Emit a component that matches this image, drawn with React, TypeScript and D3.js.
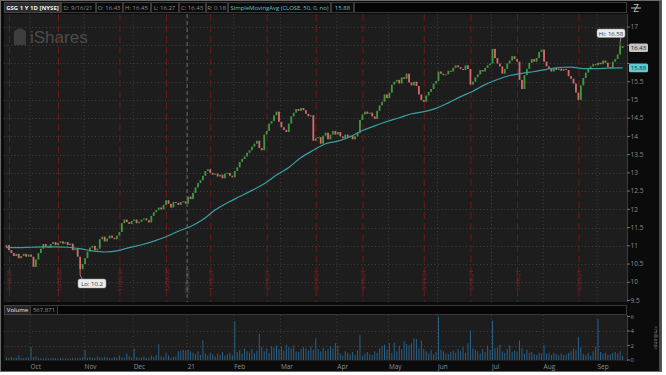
import React from "react";
import * as d3 from "d3";

// daily closes, 9/17/20 .. 9/16/21 (252 sessions)
const closes: number[] = [
  // Sep 20
  11.02, 10.88, 10.8, 10.72, 10.78, 10.66, 10.72, 10.78, 10.7, 10.76,
  // Oct
  10.7, 10.42, 10.62, 10.8, 10.92, 11.05, 10.98, 10.95, 11.05, 11.1, 11.02,
  11.08, 11.12, 11.06, 11.1, 11.02, 11.06, 10.88, 10.92, 10.7, 10.36, 10.5,
  // Nov
  10.66, 10.84, 10.95, 11.0, 10.88, 10.92, 11.18, 11.25, 11.12, 11.2, 11.28,
  11.22, 11.18, 11.28, 11.38, 11.62, 11.72, 11.65, 11.6, 11.68,
  // Dec
  11.72, 11.62, 11.66, 11.72, 11.75, 11.7, 11.64, 11.82, 11.92, 11.98, 12.05,
  12.0, 12.12, 12.25, 12.15, 12.05, 12.2, 12.18, 12.12, 12.2, 12.22, 12.16,
  // Jan 21
  12.35, 12.28, 12.45, 12.6, 12.72, 12.8, 12.92, 13.05, 13.1, 13.0, 12.95,
  12.98, 12.9, 12.95, 12.85, 12.98, 13.0, 12.92, 12.88,
  // Feb
  13.05, 13.15, 13.3, 13.38, 13.45, 13.55, 13.62, 13.72, 13.8, 13.88, 13.68,
  13.62, 14.05, 14.15, 14.35, 14.42, 14.58, 14.68, 14.4,
  // Mar
  14.25, 14.18, 14.12, 14.35, 14.55, 14.65, 14.75, 14.7, 14.78, 14.72, 14.62,
  14.55, 14.58, 13.88, 13.95, 13.98, 13.8, 14.02, 14.1, 13.92, 14.05, 14.15, 14.05,
  // Apr
  14.12, 14.0, 13.95, 14.05, 13.98, 14.02, 13.92, 14.0, 14.1, 14.45, 14.6,
  14.68, 14.62, 14.65, 14.55, 14.48, 14.7, 14.85, 14.95, 15.15, 15.05,
  // May
  15.2, 15.42, 15.5, 15.55, 15.45, 15.62, 15.58, 15.72, 15.48, 15.4, 15.5,
  15.38, 15.15, 15.0, 14.95, 15.12, 15.22, 15.3, 15.45, 15.52,
  // Jun
  15.78, 15.72, 15.68, 15.7, 15.8, 15.78, 15.88, 15.95, 15.9, 15.85, 15.82,
  15.95, 15.85, 15.42, 15.5, 15.62, 15.7, 15.82, 15.78, 15.88, 15.95, 16.0,
  // Jul
  16.4, 16.15, 16.0, 15.92, 15.72, 15.85, 16.0, 16.08, 16.2, 16.12, 16.05,
  15.55, 15.3, 15.68, 15.85, 16.02, 16.12, 16.05, 16.15, 16.32, 16.38,
  // Aug
  16.05, 15.92, 15.85, 15.78, 15.88, 15.82, 15.86, 15.8, 15.85, 15.82, 15.65,
  15.58, 15.45, 15.2, 15.0, 15.4, 15.6, 15.75, 15.85, 15.92, 15.98, 15.95,
  // Sep
  16.02, 15.98, 16.08, 16.02, 15.9, 15.88, 16.05, 16.12, 16.25, 16.47, 16.43,
];
const firstOpen = 10.95;

// volume in millions
const volumes: number[] = [
  0.35, 0.3, 0.4, 0.25, 0.3, 0.7, 0.3, 0.25, 0.35, 0.3,
  1.8, 0.4, 0.5, 0.3, 0.25, 0.2, 0.3, 0.25, 0.2, 0.3, 0.25, 0.2, 0.25, 0.3, 0.2, 0.25, 0.2, 0.3, 0.25, 0.2, 0.3, 0.35,
  1.4, 0.3, 0.4, 0.25, 0.3, 0.5, 0.35, 0.3, 0.45, 0.35, 0.3, 0.25, 0.4, 0.3, 0.6, 0.35, 0.3, 0.9, 0.5, 0.3,
  1.6, 0.4, 0.3, 0.35, 0.5, 0.3, 0.3, 0.6, 0.4, 0.7, 2.2, 0.5, 0.4, 1.0, 0.6, 0.3, 0.4, 0.5, 1.2, 1.3, 1.4, 1.3,
  1.4, 1.2, 1.0, 0.8, 1.2, 0.7, 2.7, 0.9, 0.6, 1.0, 0.8, 0.5, 0.9, 0.7, 1.1, 0.6, 0.8, 1.0, 0.7,
  5.3, 1.1, 1.4, 0.9, 1.6, 1.2, 1.0, 1.5, 0.9, 1.3, 3.6, 1.8, 1.2, 1.6, 1.0, 1.9, 1.7, 2.0, 1.5,
  1.9, 1.3, 2.1, 1.8, 1.6, 2.0, 1.2, 1.1, 1.5, 1.8, 1.6, 1.3, 1.9, 1.4, 3.0, 1.5, 1.2, 1.7, 1.3, 1.5, 1.9, 1.6, 2.3,
  2.0, 0.9, 0.6, 1.2, 1.0, 0.8, 1.1, 0.7, 1.3, 3.4, 0.6, 0.9, 1.1, 0.8, 0.7, 1.2, 1.0, 1.6, 1.9, 2.1, 1.4,
  2.3, 1.0, 2.4, 1.2, 2.0, 1.5, 2.6, 2.2, 2.0, 2.3, 3.0, 2.9, 1.6, 2.7, 1.5, 1.2, 0.9, 1.4, 0.8, 1.1,
  6.0, 1.4, 1.2, 0.9, 0.8, 1.1, 1.3, 1.0, 1.5, 1.2, 1.8, 1.0, 2.3, 4.1, 1.6, 1.4, 1.2, 0.9, 1.5, 1.1, 2.0, 1.4,
  5.4, 1.6, 1.7, 2.1, 1.2, 1.0, 1.5, 2.0, 1.1, 1.3, 1.2, 2.7, 1.6, 0.9, 1.4, 1.0, 1.1, 0.8, 0.7, 1.0, 0.9,
  2.1, 0.9, 1.0, 0.7, 1.0, 0.8, 0.6, 0.9, 0.7, 0.8, 1.0, 1.2, 1.6, 1.4, 3.2, 1.8, 0.8, 0.7, 1.0, 0.6, 1.2, 1.8,
  5.6, 1.1, 0.9, 1.0, 0.7, 0.8, 1.0, 1.1, 0.9, 1.2, 0.57,
];

// 50-day SMA, [session index, value]
const smaPoints: [number, number][] = [
  [0, 10.95], [5, 10.95], [10, 10.96], [15, 10.97], [20, 10.97], [25, 10.96],
  [30, 10.92], [35, 10.86], [40, 10.83], [45, 10.86], [50, 10.95], [55, 11.03],
  [60, 11.13], [65, 11.25], [70, 11.4], [75, 11.53], [80, 11.72], [85, 11.98],
  [90, 12.18], [95, 12.35], [100, 12.52], [105, 12.7], [110, 12.94], [115, 13.15],
  [120, 13.42], [125, 13.62], [130, 13.8], [135, 13.87], [140, 13.99], [145, 14.16],
  [150, 14.29], [155, 14.41], [160, 14.51], [165, 14.62], [170, 14.68], [175, 14.77],
  [180, 14.92], [185, 15.09], [190, 15.24], [195, 15.42], [200, 15.56], [205, 15.67],
  [210, 15.73], [215, 15.78], [220, 15.84], [225, 15.89], [230, 15.9], [235, 15.86],
  [240, 15.86], [245, 15.87], [251, 15.88],
];

const monthStarts = [10, 32, 52, 74, 93, 112, 135, 156, 176, 198, 219, 241];
const monthLabels = ["Oct", "Nov", "Dec", "21", "Feb", "Mar", "Apr", "May", "Jun", "Jul", "Aug", "Sep"];
const yearBreak = 74;

const expiryIdx = [1, 21, 46, 65, 83, 106, 126, 145, 170, 189, 208, 233];
const expiryLabels = ["9/18/20", "10/16/20", "11/20/20", "12/18/20", "1/15/21", "2/19/21",
  "3/19/21", "4/16/21", "5/21/21", "6/18/21", "7/16/21", "8/20/21"];

const priceTicks = [9.5, 10, 10.5, 11, 11.5, 12, 12.5, 13, 13.5, 14, 14.5, 15, 15.5, 16, 16.5, 17];
const volTicks = [0, 2, 4, 6];

const hiIdx = 250, hiVal = 16.58;
const loIdx = 30, loVal = 10.2;
const lastClose = 16.43, lastSma = 15.88;

const header = [
  { t: "D: 9/16/21", x0: 61, x1: 95 },
  { t: "O: 16.43", x0: 96, x1: 122 },
  { t: "H: 16.45", x0: 123, x1: 150 },
  { t: "L: 16.27", x0: 151, x1: 178 },
  { t: "C: 16.43", x0: 179, x1: 205 },
  { t: "R: 0.18", x0: 206, x1: 227 },
];

const FONT = "'Open Sans', 'DejaVu Sans', sans-serif";

export default function App() {
  const x = d3.scaleLinear().domain([0, 251]).range([6.5, 622.6]);
  const y = d3.scaleLinear().domain([9.5, 17]).range([300.5, 27]);
  const yv = d3.scaleLinear().domain([0, 6]).range([360, 316.5]);

  const plotL = 4, plotR = 627;
  const pTop = 14, pBot = 302;
  const vTop = 315, vBot = 361;

  const smaLine = d3.line<[number, number]>()
    .x((d) => x(d[0]))
    .y((d) => y(d[1]))
    .curve(d3.curveMonotoneX)(smaPoints) || "";

  const candles = closes.map((c, i) => {
    const o = i === 0 ? firstOpen : closes[i - 1];
    const top = y(Math.max(o, c));
    const h = Math.max(1, Math.abs(y(o) - y(c)));
    const col = c > o ? "#3e9a3e" : c < o ? "#d96a6a" : "#9a9a9a";
    return { i, top, h, col };
  });

  const hiddenTick = (t: number) =>
    Math.abs(y(t) - y(lastClose)) < 6 || Math.abs(y(t) - y(lastSma)) < 6;

  return (
    <div style={{ position: "absolute", left: 0, top: 0 }}>
      <svg width={666} height={375} style={{ display: "block", fontFamily: FONT }}>
        <rect x={0} y={0} width={666} height={375} fill="#ffffff" />
        <rect x={0} y={0} width={662} height={372} fill="#0b0b0b" />
        <rect x={0.5} y={0.5} width={661} height={371} fill="none" stroke="#6a6a6a" />
        <rect x={659} y={1} width={2.5} height={370} fill="#4a4a4a" />

        {/* header */}
        <rect x={4.5} y={2.5} width={56} height={10} fill="#2c2c2c" stroke="#444" />
        <text x={32.5} y={10} fontSize={6} fontWeight="bold" fill="#f0f0f0" textAnchor="middle">
          GSG 1 Y 1D [NYSE]
        </text>
        {header.map((h) => (
          <g key={h.t}>
            <rect x={h.x0 + 0.5} y={2.5} width={h.x1 - h.x0} height={10} fill="#0b0b0b" stroke="#3a3a3a" />
            <text x={(h.x0 + h.x1) / 2} y={10} fontSize={6} fill="#8e8e8e" textAnchor="middle">
              {h.t}
            </text>
          </g>
        ))}
        <rect x={228.5} y={2.5} width={102} height={10} fill="#0b0b0b" stroke="#3a3a3a" />
        <text x={279.5} y={10} fontSize={6} fill="#55c3c9" textAnchor="middle" textLength={98}>
          SimpleMovingAvg (CLOSE, 50, 0, no)
        </text>
        <rect x={331.5} y={2.5} width={22} height={10} fill="#0b0b0b" stroke="#3a3a3a" />
        <text x={342.5} y={10} fontSize={6} fill="#55c3c9" textAnchor="middle">15.88</text>
        <rect x={354.5} y={2.5} width={272} height={10} fill="#050505" stroke="#3a3a3a" />
        <text x={636} y={12} fontSize={10} fill="#bdbdbd" textAnchor="middle">Z</text>
        <line x1={631} x2={641} y1={8} y2={8} stroke="#bdbdbd" strokeWidth={1} />

        {/* price panel */}
        <rect x={plotL} y={pTop} width={plotR - plotL} height={pBot - pTop} fill="#1d1d1d" />
        {priceTicks.slice(1).map((t) => (
          <line key={t} x1={plotL} x2={plotR} y1={Math.round(y(t)) + 0.5} y2={Math.round(y(t)) + 0.5}
            stroke="#414141" strokeDasharray="1,2.5" />
        ))}
        {monthStarts.map((m) => (
          m === yearBreak ? null :
          <line key={m} x1={x(m) - 1} x2={x(m) - 1} y1={pTop} y2={pBot}
            stroke="#414141" strokeDasharray="1,2.5" />
        ))}
        <line x1={x(yearBreak) - 1} x2={x(yearBreak) - 1} y1={pTop} y2={pBot}
          stroke="#6e6e6e" strokeDasharray="4,3" />
        <text transform={`translate(${x(yearBreak) + 1},281) rotate(-90)`} fontSize={5.5}
          fill="#5e5e5e" textAnchor="middle">2020 year</text>

        {/* iShares watermark */}
        <path d="M14,31 L20,28 L26,31 L26,45 L14,45 Z" fill="#3e3e3e" />
        <text x={30} y={43} fontSize={17} fill="#4d4d4d" fontFamily="'Liberation Sans', Arial, sans-serif">
          iShares
        </text>

        {/* expiration markers */}
        {expiryIdx.map((e, k) => (
          <g key={e}>
            <line x1={x(e) + 0.5} x2={x(e) + 0.5} y1={pTop} y2={pBot} stroke="#6e1a1a"
              strokeDasharray="7,4" />
            <text transform={`translate(${x(e) + 2.5},280) rotate(-90)`} fontSize={5.5}
              fill="#7e2626" textAnchor="middle">{expiryLabels[k]}</text>
          </g>
        ))}

        {/* candles */}
        <line x1={x(hiIdx)} x2={x(hiIdx)} y1={y(hiVal)} y2={y(closes[hiIdx - 1])} stroke="#3e9a3e" />
        <line x1={x(loIdx)} x2={x(loIdx)} y1={y(loVal)} y2={y(closes[loIdx])} stroke="#d96a6a" />
        {candles.map((c) => (
          <rect key={c.i} x={x(c.i) - 0.9} y={c.top} width={1.8} height={c.h} fill={c.col} />
        ))}
        <path d={smaLine} fill="none" stroke="#3a9fa4" strokeWidth={1.2} />

        {/* hi / lo bubbles */}
        <line x1={621} x2={x(hiIdx)} y1={37} y2={y(hiVal)} stroke="#cfcfcf" strokeWidth={0.6} />
        <rect x={597} y={29} width={28} height={8.5} rx={2} fill="#ececec" stroke="#9a9a9a" strokeWidth={0.5} />
        <text x={611} y={35.5} fontSize={6} fill="#333" textAnchor="middle">Hi: 16.58</text>
        <line x1={x(loIdx) + 2} x2={x(loIdx)} y1={279} y2={y(loVal)} stroke="#cfcfcf" strokeWidth={0.6} />
        <rect x={78} y={279} width={28} height={9} rx={2} fill="#ececec" stroke="#9a9a9a" strokeWidth={0.5} />
        <text x={92} y={285.8} fontSize={6} fill="#333" textAnchor="middle">Lo: 10.2</text>

        {/* price axis */}
        <line x1={plotR + 0.5} x2={plotR + 0.5} y1={pTop} y2={pBot} stroke="#3a3a3a" />
        {priceTicks.map((t) => (
          <g key={t}>
            <line x1={plotR} x2={plotR + 3} y1={y(t)} y2={y(t)} stroke="#777" />
            {hiddenTick(t) ? null : (
              <text x={630.5} y={y(t) + 2.2} fontSize={6.5} fill="#8e8e8e">{t}</text>
            )}
          </g>
        ))}
        <rect x={629} y={y(lastClose) - 4.3} width={19} height={8.6} rx={1.5} fill="#c4c4c4" />
        <text x={638.5} y={y(lastClose) + 2.2} fontSize={6} fill="#222" textAnchor="middle">16.43</text>
        <rect x={629} y={y(lastSma) - 4.3} width={19} height={8.6} rx={1.5} fill="#5fcbd2" />
        <text x={638.5} y={y(lastSma) + 2.2} fontSize={6} fill="#0d3436" textAnchor="middle">15.88</text>

        {/* volume header */}
        <rect x={4.5} y={305.5} width={26} height={9} fill="#262626" stroke="#444" />
        <text x={17.5} y={312.3} fontSize={6} fill="#e6e6e6" textAnchor="middle">Volume</text>
        <rect x={30.5} y={305.5} width={27} height={9} fill="#0b0b0b" stroke="#3a3a3a" />
        <text x={44} y={312.3} fontSize={6} fill="#8e8e8e" textAnchor="middle">567,871</text>
        <rect x={57.5} y={305.5} width={569} height={9} fill="#050505" stroke="#3a3a3a" />

        {/* volume panel */}
        <rect x={plotL} y={vTop} width={plotR - plotL} height={vBot - vTop} fill="#1d1d1d" />
        {[2, 4].map((t) => (
          <line key={t} x1={plotL} x2={plotR} y1={Math.round(yv(t)) + 0.5} y2={Math.round(yv(t)) + 0.5}
            stroke="#414141" strokeDasharray="1,2.5" />
        ))}
        {monthStarts.map((m) => (
          <line key={m} x1={x(m) - 1} x2={x(m) - 1} y1={vTop} y2={vBot}
            stroke="#414141" strokeDasharray="1,2.5" />
        ))}
        {volumes.map((v, i) => (
          <rect key={i} x={x(i) - 0.5} y={yv(v)} width={1} height={yv(0) - yv(v)} fill="#2a6186" />
        ))}
        <line x1={plotR + 0.5} x2={plotR + 0.5} y1={vTop} y2={vBot} stroke="#3a3a3a" />
        {volTicks.map((t) => (
          <g key={t}>
            <line x1={plotR} x2={plotR + 3} y1={yv(t)} y2={yv(t)} stroke="#777" />
            <text x={630.5} y={yv(t) + 2.2} fontSize={6} fill="#8e8e8e">{t}</text>
          </g>
        ))}
        <text transform="translate(654,338) rotate(90)" fontSize={5} fill="#8e8e8e" textAnchor="middle">
          &lt;millions&gt;
        </text>

        {/* time axis */}
        {monthStarts.map((m, k) => (
          <text key={m} x={x(m) - 0.5} y={369} fontSize={6.5} fill="#8e8e8e">{monthLabels[k]}</text>
        ))}
      </svg>
    </div>
  );
}
